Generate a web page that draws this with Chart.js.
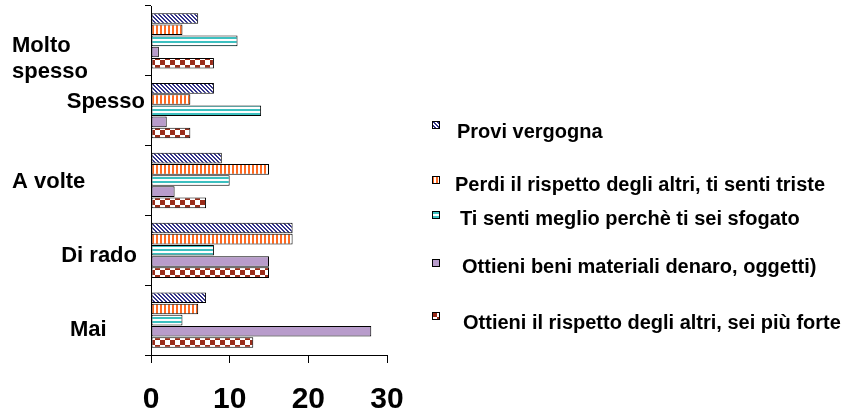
<!DOCTYPE html>
<html>
<head>
<meta charset="utf-8">
<script src="https://cdn.jsdelivr.net/npm/chart.js@4.4.1/dist/chart.umd.min.js"></script>
<style>
  html, body { margin: 0; padding: 0; background: #fff; }
  #wrap { position: relative; width: 844px; height: 412px; }
  #legend { position: absolute; left: 0; top: 0; }
  .item { position: absolute; white-space: nowrap; font: bold 20px "Liberation Sans", Arial, sans-serif; color: #000; }
</style>
</head>
<body>
<div id="wrap">
  <canvas id="chart" width="844" height="412"></canvas>
  <div id="legend"></div>
</div>
<script>
// categorie (dall'alto in basso)
const categorie = [["Molto", "spesso"], "Spesso", "A volte", "Di rado", "Mai"];
const serie = [
  "Provi vergogna",
  "Perdi il rispetto degli altri, ti senti triste",
  "Ti senti meglio perchè ti sei sfogato",
  "Ottieni beni materiali  denaro, oggetti)",
  "Ottieni il rispetto degli altri, sei più forte"
];
const vergogna = [6, 8, 9, 18, 7];
const perdiRispetto = [4, 5, 15, 18, 6];
const sfogato = [11, 14, 10, 8, 4];
const beniMateriali = [1, 2, 3, 15, 28];
const rispettoForte = [8, 5, 7, 15, 13];
const xTicks = [0, 10, 20, 30];

// retini delle barre
function makePattern(g, w, h, draw) {
  const c = document.createElement("canvas");
  c.width = w; c.height = h;
  const p = c.getContext("2d");
  p.fillStyle = "#fff";
  p.fillRect(0, 0, w, h);
  draw(p);
  return g.createPattern(c, "repeat");
}
const patterns = [
  g => makePattern(g, 4, 4, p => {
    p.fillStyle = "#34348a";
    for (let i = 0; i < 4; i++) { p.fillRect(i, i, 1, 1); p.fillRect((i + 1) % 4, i, 1, 1); }
  }),
  g => makePattern(g, 4, 4, p => {
    p.fillStyle = "#ff6a22";
    p.fillRect(0, 0, 2, 4);
  }),
  g => makePattern(g, 4, 4, p => {
    p.fillStyle = "#3cc0c0";
    p.fillRect(0, 1, 4, 2);
  }),
  g => makePattern(g, 4, 4, p => {
    p.fillStyle = "#b89ccb";
    p.fillRect(0, 0, 4, 4);
  }),
  g => makePattern(g, 10, 10, p => {
    p.fillStyle = "#9a2c1a";
    p.fillRect(0, 0, 5, 5);
    p.fillRect(5, 5, 5, 5);
  })
];

const canvas = document.getElementById("chart");
const ctx = canvas.getContext("2d");
const valori = [vergogna, perdiRispetto, sfogato, beniMateriali, rispettoForte];

// posizione delle etichette di categoria (come nell'originale, allineamenti misti)
const labelPos = [
  { x: 12, align: "left", dy: 18 },
  { x: 145, align: "right", dy: -9 },
  { x: 12, align: "left", dy: 1 },
  { x: 137, align: "right", dy: 6 },
  { x: 70, align: "left", dy: 10 }
];

const categoryLabels = {
  id: "categoryLabels",
  afterDraw(chart) {
    const y = chart.scales.y;
    const c = chart.ctx;
    c.save();
    c.font = "bold 22px 'Liberation Sans', Arial, sans-serif";
    c.fillStyle = "#000";
    c.textBaseline = "middle";
    categorie.forEach((lab, i) => {
      const pos = labelPos[i];
      const lines = Array.isArray(lab) ? lab : [lab];
      const cy = y.getPixelForValue(i) + pos.dy;
      c.textAlign = pos.align;
      lines.forEach((t, k) => {
        c.fillText(t, pos.x, cy + (k - (lines.length - 1) / 2) * 26);
      });
    });
    c.restore();
  }
};

new Chart(ctx, {
  type: "bar",
  data: {
    labels: categorie.map(l => Array.isArray(l) ? l.join(" ") : l),
    datasets: serie.map((nome, i) => ({
      label: nome,
      data: valori[i],
      backgroundColor: patterns[i](ctx),
      borderColor: "#000",
      borderWidth: 1,
      borderSkipped: false,
      categoryPercentage: 0.8,
      barPercentage: 0.95
    }))
  },
  options: {
    indexAxis: "y",
    responsive: false,
    animation: false,
    layout: { padding: { top: 6, right: 457, bottom: 0, left: 0 } },
    plugins: {
      legend: { display: false },
      tooltip: { enabled: false }
    },
    scales: {
      x: {
        min: 0,
        max: 30,
        afterBuildTicks: s => { s.ticks = xTicks.map(v => ({ value: v })); },
        afterFit: s => { s.height = 57; },
        grid: { drawOnChartArea: false, tickLength: 8, color: "#000" },
        border: { color: "#000", width: 1 },
        ticks: {
          color: "#000",
          padding: 22,
          font: { family: "'Liberation Sans', Arial, sans-serif", size: 30, weight: "bold", lineHeight: 1 }
        }
      },
      y: {
        afterFit: s => { s.width = 151; },
        grid: { drawOnChartArea: false, tickLength: 6, color: "#000" },
        border: { color: "#000", width: 1 },
        ticks: { display: false }
      }
    }
  },
  plugins: [categoryLabels]
});

// legenda a destra
const legendPos = [
  { top: 131, box: 125, x: 457 },
  { top: 184, box: 180, x: 455 },
  { top: 218, box: 215, x: 460 },
  { top: 266, box: 263, x: 462 },
  { top: 322, box: 316, x: 463 }
];
const legend = document.getElementById("legend");
serie.forEach((nome, i) => {
  const p = legendPos[i];
  const box = document.createElement("canvas");
  box.width = 8; box.height = 8;
  box.style.left = "432px";
  box.style.top = (p.box - 4) + "px";
  box.style.position = "absolute";
  const bg = box.getContext("2d");
  bg.fillStyle = patterns[i](bg);
  bg.fillRect(0, 0, 8, 8);
  bg.strokeStyle = "#000";
  bg.lineWidth = 1;
  bg.strokeRect(0.5, 0.5, 7, 7);
  legend.appendChild(box);
  const t = document.createElement("div");
  t.className = "item";
  t.textContent = nome;
  t.style.left = p.x + "px";
  t.style.top = (p.top - 11) + "px";
  t.style.lineHeight = "22px";
  legend.appendChild(t);
});
</script>
</body>
</html>
